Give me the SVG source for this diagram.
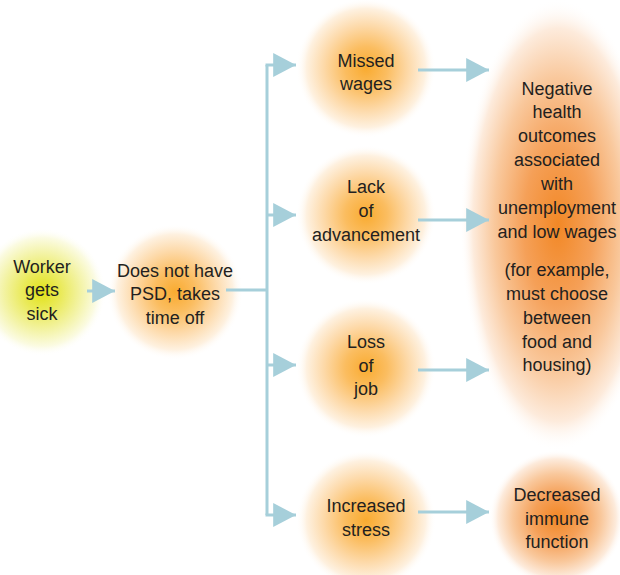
<svg xmlns="http://www.w3.org/2000/svg" width="620" height="575" viewBox="0 0 620 575">
<defs>
<radialGradient id="gOr">
<stop offset="0" stop-color="#f9ab30"/>
<stop offset="0.3" stop-color="#fbbd60"/>
<stop offset="0.6" stop-color="#fdd9a8"/>
<stop offset="0.85" stop-color="#fef1e0"/>
<stop offset="1" stop-color="#ffffff" stop-opacity="0"/>
</radialGradient>
<radialGradient id="gDeep">
<stop offset="0" stop-color="#f28826"/>
<stop offset="0.35" stop-color="#f5a058"/>
<stop offset="0.65" stop-color="#f9c89c"/>
<stop offset="0.87" stop-color="#fdebdc"/>
<stop offset="1" stop-color="#ffffff" stop-opacity="0"/>
</radialGradient>
<radialGradient id="gYel">
<stop offset="0" stop-color="#e2e218"/>
<stop offset="0.3" stop-color="#eaea5a"/>
<stop offset="0.6" stop-color="#f3f3a4"/>
<stop offset="0.85" stop-color="#fbfbe2"/>
<stop offset="1" stop-color="#ffffff" stop-opacity="0"/>
</radialGradient>
<marker id="arr" markerWidth="8" markerHeight="8" refX="7.6" refY="4" orient="auto" markerUnits="strokeWidth">
<path d="M0,0 L7.6,4 L0,8 Z" fill="#a6cfda"/>
</marker>
<style>
text{font-family:"Liberation Sans",Arial,sans-serif;font-size:18px;fill:#231f20;text-anchor:middle}
.c{fill:none;stroke:#a6cfda;stroke-width:3}
</style>
</defs>
<rect width="620" height="575" fill="#ffffff"/>
<g id="worker">
<circle cx="42" cy="292" r="64" fill="url(#gYel)"/>
<text x="42" y="273">Worker</text>
<text x="42" y="296">gets</text>
<text x="42" y="320">sick</text>
</g>
<g id="nopsd">
<circle cx="175" cy="292" r="68" fill="url(#gOr)"/>
<text x="175" y="277">Does not have</text>
<text x="175" y="300">PSD, takes</text>
<text x="175" y="324">time off</text>
</g>
<g id="wages">
<circle cx="366" cy="68" r="70" fill="url(#gOr)"/>
<text x="366" y="67">Missed</text>
<text x="366" y="90">wages</text>
</g>
<g id="advancement">
<circle cx="366" cy="215" r="70" fill="url(#gOr)"/>
<text x="366" y="193">Lack</text>
<text x="366" y="217">of</text>
<text x="366" y="241">advancement</text>
</g>
<g id="job">
<circle cx="366" cy="368" r="70" fill="url(#gOr)"/>
<text x="366" y="348">Loss</text>
<text x="366" y="372">of</text>
<text x="366" y="395">job</text>
</g>
<g id="stress">
<circle cx="366" cy="520" r="70" fill="url(#gOr)"/>
<text x="366" y="512">Increased</text>
<text x="366" y="536">stress</text>
</g>
<g id="negative">
<ellipse cx="558" cy="225" rx="98" ry="226" fill="url(#gDeep)"/>
<text x="557" y="95">Negative</text>
<text x="557" y="118">health</text>
<text x="557" y="142">outcomes</text>
<text x="557" y="166">associated</text>
<text x="557" y="190">with</text>
<text x="557" y="214">unemployment</text>
<text x="557" y="238">and low wages</text>
<text x="557" y="276">(for example,</text>
<text x="557" y="300">must choose</text>
<text x="557" y="324">between</text>
<text x="557" y="348">food and</text>
<text x="557" y="371">housing)</text>
</g>
<g id="immune">
<circle cx="557" cy="518" r="68" fill="url(#gDeep)"/>
<text x="557" y="501">Decreased</text>
<text x="557" y="525">immune</text>
<text x="557" y="548">function</text>
</g>
<g id="connectors">
<line class="c" x1="87" y1="291" x2="115" y2="291" marker-end="url(#arr)"/>
<polyline class="c" points="226,290 267,290"/>
<polyline class="c" points="267,65 267,515"/>
<line class="c" x1="265.5" y1="65" x2="296" y2="65" marker-end="url(#arr)"/>
<line class="c" x1="267" y1="215" x2="296" y2="215" marker-end="url(#arr)"/>
<line class="c" x1="267" y1="365" x2="296" y2="365" marker-end="url(#arr)"/>
<line class="c" x1="265.5" y1="515" x2="296" y2="515" marker-end="url(#arr)"/>
<line class="c" x1="418" y1="70" x2="489" y2="70" marker-end="url(#arr)"/>
<line class="c" x1="418" y1="220" x2="489" y2="220" marker-end="url(#arr)"/>
<line class="c" x1="418" y1="370" x2="489" y2="370" marker-end="url(#arr)"/>
<line class="c" x1="418" y1="512" x2="489" y2="512" marker-end="url(#arr)"/>
</g>
</svg>
